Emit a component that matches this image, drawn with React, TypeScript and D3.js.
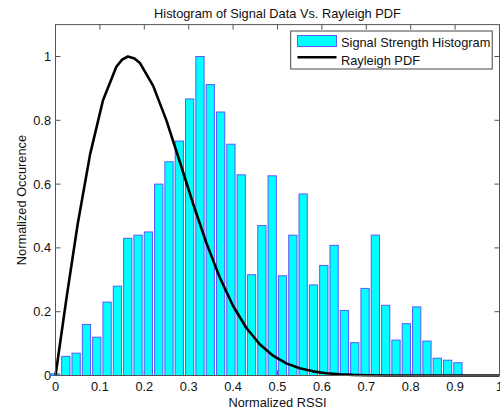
import React from "react";
import * as d3 from "d3";

// Histogram bar heights (normalized occurrence), 40 bins
const histValues = [
  0.005, 0.06, 0.07, 0.16, 0.12, 0.23, 0.28, 0.43, 0.44, 0.45,
  0.60, 0.67, 0.735, 0.867, 1.0, 0.912, 0.826, 0.725, 0.629, 0.316,
  0.47, 0.626, 0.3125, 0.44, 0.569, 0.284, 0.345, 0.408, 0.204, 0.103,
  0.273, 0.44, 0.22, 0.111, 0.1625, 0.215, 0.108, 0.054, 0.048, 0.04,
];
const binWidth = 0.02324;

// Rayleigh PDF curve points
const rayleighX = [0, 0.025, 0.05, 0.078, 0.107, 0.137, 0.15, 0.163, 0.178, 0.19, 0.22, 0.25, 0.28, 0.31, 0.34, 0.37, 0.4, 0.43, 0.46, 0.49, 0.52, 0.55, 0.58, 0.61, 0.64, 0.67, 0.7, 0.75, 0.8, 0.9, 1.0];
const rayleighY = [0, 0.245, 0.475, 0.694, 0.863, 0.968, 0.99, 1.0, 0.994, 0.98, 0.908, 0.799, 0.67, 0.538, 0.415, 0.307, 0.218, 0.149, 0.098, 0.062, 0.038, 0.023, 0.013, 0.007, 0.004, 0.002, 0.001, 0, 0, 0, 0];

const xTicks = [0, 0.1, 0.2, 0.3, 0.4, 0.5, 0.6, 0.7, 0.8, 0.9, 1];
const xTickLabels = ["0", "0.1", "0.2", "0.3", "0.4", "0.5", "0.6", "0.7", "0.8", "0.9", "1"];
const yTicks = [0, 0.2, 0.4, 0.6, 0.8, 1];
const yTickLabels = ["0", "0.2", "0.4", "0.6", "0.8", "1"];

const title = "Histogram of Signal Data Vs. Rayleigh PDF";
const xLabel = "Normalized RSSI";
const yLabel = "Normalized Occurence";
const legendLabels = ["Signal Strength Histogram", "Rayleigh PDF"];

const W = 500;
const H = 414;
const left = 55.5;
const right = 499.5;
const top = 24.6;
const bottom = 375.5;
const font = "'Liberation Sans', Arial, Helvetica, sans-serif";
const fs = 12.8;

export default function App() {
  const x = d3.scaleLinear().domain([0, 1]).range([left, right]);
  const y = d3.scaleLinear().domain([0, 1.1]).range([bottom, top]);
  const bw = x(binWidth * 0.8) - x(0);
  const line = d3
    .line<number>()
    .x((_, i) => x(rayleighX[i]))
    .y((d) => y(d));
  const tickLen = 5;
  const axisColor = "#555";
  const barFill = "#00ffff";
  const barStroke = "#5a5aff";

  return (
    <svg width={W} height={H} style={{ position: "absolute", left: 0, top: 0, background: "#fff" }} fontFamily={font}>
      <rect x={0} y={0} width={W} height={H} fill="#fff" />
      {/* ticks */}
      {xTicks.map((t, i) => (
        <g key={"xt" + i}>
          <line x1={x(t)} x2={x(t)} y1={bottom} y2={bottom - tickLen} stroke={axisColor} strokeWidth={1} />
          <line x1={x(t)} x2={x(t)} y1={top} y2={top + tickLen} stroke={axisColor} strokeWidth={1} />
        </g>
      ))}
      {yTicks.map((t, i) => (
        <g key={"yt" + i}>
          <line x1={left} x2={left + tickLen} y1={y(t)} y2={y(t)} stroke={axisColor} strokeWidth={1} />
          <line x1={right} x2={right - tickLen} y1={y(t)} y2={y(t)} stroke={axisColor} strokeWidth={1} />
        </g>
      ))}
      {/* bars */}
      {histValues.map((v, i) => {
        const cx = x(i * binWidth);
        return (
          <rect
            key={"b" + i}
            x={cx - bw / 2}
            y={y(v)}
            width={bw}
            height={y(0) - y(v)}
            fill={barFill}
            stroke={barStroke}
            strokeWidth={1}
          />
        );
      })}
      {/* rayleigh curve */}
      <path d={line(rayleighY) || ""} fill="none" stroke="#000" strokeWidth={2.6} strokeLinejoin="round" />
      {/* box */}
      <rect x={left} y={top} width={right - left} height={bottom - top} fill="none" stroke={axisColor} strokeWidth={1} />
      {/* tick labels */}
      {xTicks.map((t, i) => (
        <text key={"xl" + i} x={x(t)} y={391} textAnchor="middle" fontSize={fs} fill="#111">
          {xTickLabels[i]}
        </text>
      ))}
      {yTicks.map((t, i) => (
        <text key={"yl" + i} x={51} y={y(t) + 4.5} textAnchor="end" fontSize={fs} fill="#111">
          {yTickLabels[i]}
        </text>
      ))}
      {/* labels */}
      <text x={(left + right) / 2} y={18} textAnchor="middle" fontSize={fs} fill="#111">
        {title}
      </text>
      <text x={(left + right) / 2} y={406.5} textAnchor="middle" fontSize={fs} fill="#111">
        {xLabel}
      </text>
      <text
        transform={`translate(25.5, ${(top + bottom) / 2}) rotate(-90)`}
        textAnchor="middle"
        fontSize={fs}
        fill="#111"
      >
        {yLabel}
      </text>
      {/* legend */}
      <g>
        <rect x={290.7} y={31} width={201.5} height={38} fill="#fff" stroke="#444" strokeWidth={1} />
        <rect x={297.5} y={35.5} width={39} height={11} fill={barFill} stroke={barStroke} strokeWidth={1} />
        <text x={341} y={47} fontSize={fs} fill="#111">
          {legendLabels[0]}
        </text>
        <line x1={297.5} x2={336.5} y1={57.3} y2={57.3} stroke="#000" strokeWidth={2.6} />
        <text x={341} y={64.5} fontSize={fs} fill="#111">
          {legendLabels[1]}
        </text>
      </g>
    </svg>
  );
}
